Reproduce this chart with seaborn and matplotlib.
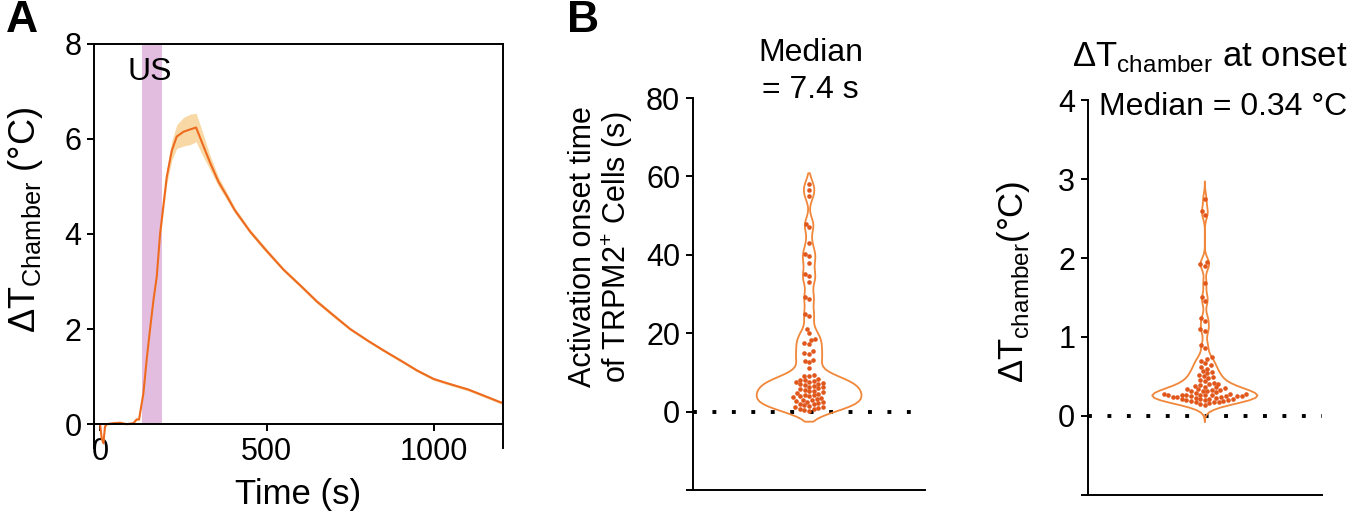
import numpy as np
import matplotlib
matplotlib.use("Agg")
from matplotlib import pyplot as plt
import seaborn as sns

# panel A: chamber temperature trace (mean +/- band)
time_s = [0, 5, 10, 15, 20, 40, 60, 80, 100, 110, 117, 130, 140, 150, 160, 170,
          180, 200, 215, 230, 250, 270, 288, 306, 330, 355, 380, 404, 450, 495,
          550, 603, 650, 703, 750, 804, 850, 903, 950, 1000, 1050, 1103, 1150, 1200, 1207]
dT_mean = [0.0, -0.3, -0.4, -0.05, 0.0, 0.02, 0.03, 0.0, 0.02, 0.1, 0.1, 0.65, 1.37, 2.0, 2.6, 3.1,
           4.0, 5.2, 5.75, 6.05, 6.15, 6.2, 6.24, 5.92, 5.5, 5.1, 4.8, 4.5, 4.05, 3.68,
           3.25, 2.9, 2.58, 2.27, 2.0, 1.75, 1.55, 1.33, 1.13, 0.95, 0.84, 0.73, 0.6, 0.46, 0.45]
dT_sem = [0.02, 0.05, 0.05, 0.03, 0.02, 0.02, 0.02, 0.02, 0.02, 0.02, 0.02, 0.03, 0.04, 0.05, 0.06, 0.08,
          0.1, 0.15, 0.2, 0.25, 0.3, 0.32, 0.3, 0.25, 0.15, 0.1, 0.08, 0.06, 0.05, 0.05,
          0.04, 0.04, 0.04, 0.04, 0.03, 0.03, 0.03, 0.03, 0.03, 0.03, 0.03, 0.03, 0.03, 0.03, 0.03]
us_start, us_end = 125, 185

# panel B: activation onset time of TRPM2+ cells (s)
onset_s = [0.3, 0.5, 0.6, 0.8, 1.0, 1.1, 1.3, 1.5, 1.7, 1.9, 2.0, 2.2, 2.4, 2.6, 2.8, 3.0,
           3.1, 3.3, 3.5, 3.7, 3.9, 4.0, 4.2, 4.4, 4.6, 4.8, 5.0, 5.2, 5.4, 5.6, 5.8, 6.0,
           6.2, 6.4, 6.6, 6.8, 7.0, 7.2, 7.4, 7.6, 7.6, 7.8, 8.0, 8.2, 8.4, 9.0, 9.2, 9.4,
           11.2, 12.6, 13.0, 13.2, 14.8, 15.0, 15.4, 17.2, 17.5, 18.3, 18.5, 20.0, 21.0,
           24.5, 24.9, 28.8, 29.2, 33.0, 34.5, 35.2, 38.0, 39.8, 40.2, 43.0, 47.2, 48.0,
           55.0, 56.5, 58.0]

# panel B right: chamber temperature change at onset (degC)
dT_onset = [0.14, 0.15, 0.16, 0.17, 0.18, 0.18, 0.19, 0.19, 0.2, 0.2, 0.2, 0.21, 0.21, 0.22,
            0.22, 0.23, 0.23, 0.24, 0.24, 0.24, 0.25, 0.25, 0.25, 0.25, 0.26, 0.26, 0.26, 0.27,
            0.27, 0.27, 0.28, 0.28, 0.28, 0.29, 0.3, 0.31, 0.32, 0.32, 0.33, 0.33, 0.34, 0.34,
            0.35, 0.36, 0.37, 0.38, 0.39, 0.4, 0.41, 0.42, 0.44, 0.46, 0.48, 0.49, 0.5, 0.52,
            0.54, 0.55, 0.57, 0.6, 0.62, 0.64, 0.67, 0.7, 0.72, 0.74, 0.86, 0.9, 1.08, 1.1,
            1.2, 1.24, 1.45, 1.5, 1.68, 1.9, 1.92, 1.95, 2.55, 2.6, 2.75]

line_col = "#EE6A1F"
band_col = "#F8D9A6"
us_col = "#E3BDE0"
violin_col = "#F0873A"
dot_col = "#E0561B"

sns.set_style("ticks")
plt.rcParams["font.family"] = ["Liberation Sans", "DejaVu Sans"]
plt.rcParams["mathtext.fontset"] = "custom"
plt.rcParams["mathtext.rm"] = "Liberation Sans"
for k in ["text.color", "axes.labelcolor", "xtick.color", "ytick.color", "axes.edgecolor"]:
    plt.rcParams[k] = "black"
plt.rcParams["axes.linewidth"] = 1.4
plt.rcParams["xtick.major.width"] = 1.4
plt.rcParams["ytick.major.width"] = 1.4
plt.rcParams["xtick.major.size"] = 5
plt.rcParams["ytick.major.size"] = 5

fig = plt.figure(figsize=(13.53, 5.16), dpi=100)
axA = fig.add_axes([0.0695, 0.132, 0.302, 0.783])
axB = fig.add_axes([0.512, 0.050, 0.172, 0.760])
axC = fig.add_axes([0.804, 0.041, 0.173, 0.765])

# ---- A
axA.fill_between([us_start, us_end], 0, 8, color=us_col, lw=0, zorder=0)
lo = np.array(dT_mean) - np.array(dT_sem)
hi = np.array(dT_mean) + np.array(dT_sem)
axA.fill_between(time_s, lo, hi, color=band_col, lw=0, zorder=1)
sns.lineplot(x=time_s, y=dT_mean, ax=axA, color=line_col, lw=1.5, zorder=2)
axA.set_xlim(-18, 1207)
axA.set_ylim(-0.5, 8)
axA.spines["bottom"].set_position(("data", 0))
axA.set_xticks([0, 500, 1000])
axA.set_yticks([0, 2, 4, 6, 8])
axA.tick_params(labelsize=22, pad=4)
axA.set_xlabel("Time (s)", fontsize=25)
axA.xaxis.set_label_coords(0.5, -0.075)
axA.set_ylabel(r"ΔT$_{\mathrm{Chamber}}$ (°C)", fontsize=26)
axA.yaxis.set_label_coords(-0.12, 0.565)
axA.text(150, 7.4, "US", fontsize=23, ha="center", va="center")

# ---- B (onset time)
def violin_panel(ax, vals, bw, cut):
    sns.violinplot(y=vals, ax=ax, color=violin_col, fill=False, inner=None,
                   linewidth=1.3, width=0.45, bw_adjust=bw, cut=cut, density_norm="width")
    sns.swarmplot(y=vals, ax=ax, color=dot_col, size=3.3)
    ax.axhline(0, color="black", lw=2.8, linestyle=(0, (1, 4)), zorder=0)
    ax.set_xlim(-0.5, 0.5)
    ax.set_xticks([])
    sns.despine(ax=ax)
    ax.tick_params(labelsize=22, pad=4)

violin_panel(axB, onset_s, 0.3, 1.5)
axB.set_ylim(-20, 80)
axB.set_yticks([-20, 0, 20, 40, 60, 80])
axB.set_yticklabels(["", "0", "20", "40", "60", "80"])
axB.set_ylabel("Activation onset time\nof TRPM2$^{+}$ Cells (s)", fontsize=22, linespacing=1.05)
axB.yaxis.set_label_coords(-0.25, 0.62)

violin_panel(axC, dT_onset, 0.3, 3)
axC.set_ylim(-1, 4)
axC.set_yticks([-1, 0, 1, 2, 3, 4])
axC.set_yticklabels(["", "0", "1", "2", "3", "4"])
axC.set_ylabel(r"ΔT$_{\mathrm{chamber}}$(°C)", fontsize=25)
axC.yaxis.set_label_coords(-0.24, 0.54)

fig.text(0.599, 0.897, "Median", fontsize=23, ha="center", va="center")
fig.text(0.599, 0.826, "= 7.4 s", fontsize=23, ha="center", va="center")
fig.text(0.894, 0.89, r"ΔT$_{\mathrm{chamber}}$ at onset", fontsize=25, ha="center", va="center")
fig.text(0.904, 0.793, "Median = 0.34 °C", fontsize=23, ha="center", va="center")

fig.text(0.016, 0.96, "A", fontsize=32, fontweight="bold", ha="center", va="center")
fig.text(0.431, 0.96, "B", fontsize=32, fontweight="bold", ha="center", va="center")

fig.savefig("out.png", dpi=100)
